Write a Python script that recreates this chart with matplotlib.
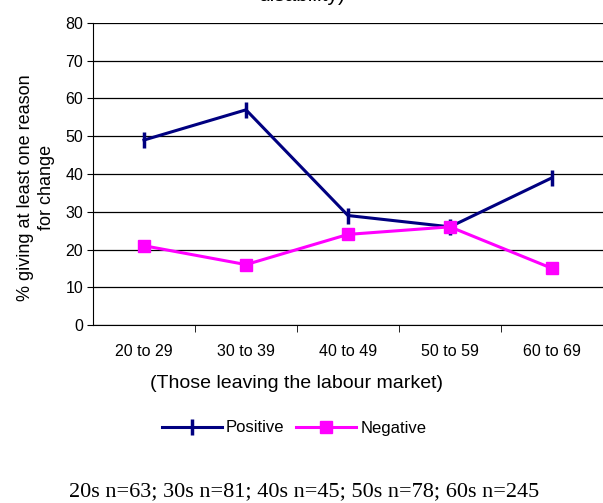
import matplotlib
matplotlib.use("Agg")
import matplotlib.pyplot as plt

# data
age_groups = ["20 to 29", "30 to 39", "40 to 49", "50 to 59", "60 to 69"]
positive = [49, 57, 29, 26, 39]
negative = [21, 16, 24, 26, 15]
y_ticks = [0, 10, 20, 30, 40, 50, 60, 70, 80]

plt.rcParams['font.family'] = ['Liberation Sans', 'DejaVu Sans']

fig = plt.figure(figsize=(6.03, 5.03), dpi=100)
ax = fig.add_axes([93 / 603, 1 - 325 / 503, 1 - 93 / 603, 302 / 503])

x = list(range(len(age_groups)))
ax.plot(x, positive, color="#000080", lw=2.2, marker="|", markersize=11,
        markeredgewidth=2.5, label="Positive", zorder=3)
ax.plot(x, negative, color="#FF00FF", lw=2.2, marker="s", markersize=9,
        label="Negative", zorder=3)

ax.set_xlim(-0.5, 4.5)
ax.set_ylim(0, 80)
ax.set_yticks(y_ticks)
ax.tick_params(axis='y', labelsize=11.5, length=4, direction='out', pad=3)
ax.set_xticks(x)
ax.set_xticklabels(age_groups, fontsize=11.5)
ax.tick_params(axis='x', length=0, pad=14)
# category separators on the x axis
ax.set_xticks([i + 0.5 for i in x[:-1]], minor=True)
ax.tick_params(axis='x', which='minor', length=5, direction='out')
ax.yaxis.grid(True, color="#000000", lw=0.9)
ax.set_axisbelow(True)
for side in ["top", "right"]:
    ax.spines[side].set_visible(False)
ax.spines["left"].set_color("#000000")
ax.spines["bottom"].set_color("#000000")

ax.set_ylabel("% giving at least one reason\nfor change", fontsize=13, linespacing=1.35)
ax.yaxis.set_label_coords(-0.074, 0.455)
ax.set_xlabel("(Those leaving the labour market)", fontsize=14)
ax.xaxis.set_label_coords(0.40, -(375 - 325) / 302)

fig.text(0.5, 1 - 1 / 503, "disability)", ha="center", va="baseline", fontsize=15)

fig.legend(loc="center", bbox_to_anchor=(294 / 603, 1 - 428 / 503), ncol=2, frameon=False,
           fontsize=12, handlelength=3.6, columnspacing=0.7, handletextpad=0.25)

fig.text(304 / 603, 1 - 492 / 503, "20s n=63; 30s n=81; 40s n=45; 50s n=78; 60s n=245",
         ha="center", va="center", fontsize=16, family=["Liberation Serif", "DejaVu Serif"])

plt.savefig("out.png", dpi=100)
